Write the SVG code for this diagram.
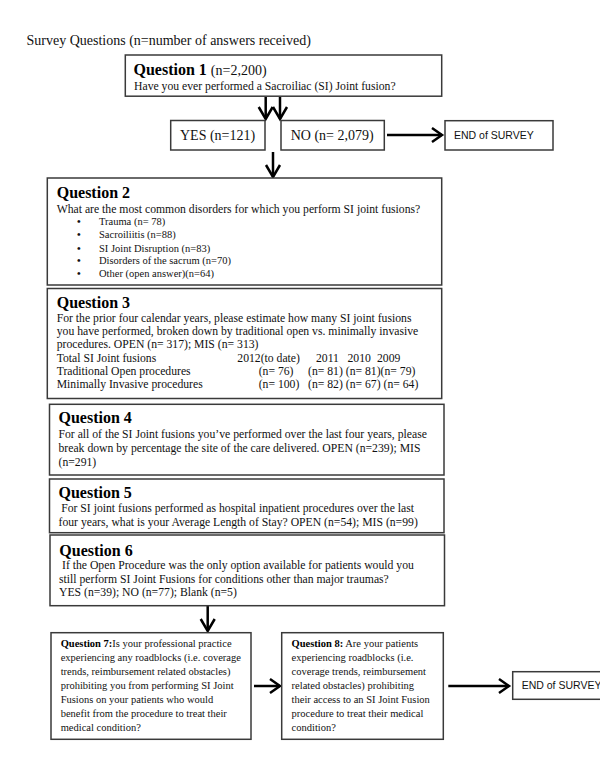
<svg xmlns="http://www.w3.org/2000/svg" width="600" height="777" viewBox="0 0 600 777">
<style>
.box{fill:#fff;stroke:#3a3a3a;stroke-width:1.5}
.t{font-family:"Liberation Serif","Times New Roman",serif;fill:#111}
.h{font-family:"Liberation Serif","Times New Roman",serif;font-weight:bold;font-size:16px;fill:#000}
.b{font-size:11.7px}
.s{font-size:10.5px}
.sans{font-family:"Liberation Sans",Arial,sans-serif;font-size:10.5px;fill:#111}
.conn line,.conn polyline{stroke:#000;stroke-width:2.5;fill:none}
</style>
<rect width="600" height="777" fill="#fff"/>
<text class="t" x="26.5" y="45" font-size="14">Survey Questions (n=number of answers received)</text>

<g id="conn" class="conn">
<line x1="265.7" y1="97" x2="265.7" y2="119"/>
<polyline points="258.7,107 265.7,119 272.7,107"/>
<line x1="280" y1="97" x2="280" y2="119"/>
<polyline points="273,107 280,119 287,107"/>
<line x1="273" y1="152" x2="273" y2="177"/>
<polyline points="266,165 273,177 280,165"/>
<line x1="387" y1="135" x2="442" y2="135"/>
<polyline points="432,128 442,135 432,142"/>
<line x1="207.7" y1="606" x2="207.7" y2="631"/>
<polyline points="200.7,619 207.7,631 214.7,619"/>
<line x1="254" y1="686" x2="280" y2="686"/>
<polyline points="270,679 280,686 270,693"/>
<line x1="448.3" y1="686" x2="509" y2="686"/>
<polyline points="499,679 509,686 499,693"/>
</g>

<g id="q1">
<rect class="box" x="125.3" y="55" width="316.4" height="41.2"/>
<text class="h" x="133.5" y="75">Question 1 <tspan class="t" style="font-weight:normal" font-size="14">(n=2,200)</tspan></text>
<text class="t b" x="134" y="90">Have you ever performed a Sacroiliac (SI) Joint fusion?</text>
</g>

<g id="yes">
<rect class="box" x="170.7" y="120.5" width="94.3" height="29.5"/>
<text class="t" x="180" y="140" font-size="14">YES (n=121)</text>
</g>

<g id="no">
<rect class="box" x="281" y="120.5" width="103.3" height="29.5"/>
<text class="t" x="290.7" y="140" font-size="14">NO (n= 2,079)</text>
</g>

<g id="end1">
<rect class="box" x="445" y="120.7" width="108" height="29.3"/>
<text class="sans" x="454" y="138.5">END of SURVEY</text>
</g>

<g id="q2">
<rect class="box" x="47.3" y="178" width="394.4" height="107"/>
<text class="h" x="56.7" y="198.3">Question 2</text>
<text class="t b" x="56.7" y="212.5">What are the most common disorders for which you perform SI joint fusions?</text>
<g class="t s">
<text x="77" y="225" font-weight="bold">•</text><text x="99" y="225">Trauma (n= 78)</text>
<text x="77" y="238.3" font-weight="bold">•</text><text x="99" y="238.3">Sacroiliitis (n=88)</text>
<text x="77" y="251.6" font-weight="bold">•</text><text x="99" y="251.6">SI Joint Disruption (n=83)</text>
<text x="77" y="264.2" font-weight="bold">•</text><text x="99" y="264.2">Disorders of the sacrum (n=70)</text>
<text x="77" y="276.7" font-weight="bold">•</text><text x="99" y="276.7">Other (open answer)(n=64)</text>
</g>
</g>

<g id="q3">
<rect class="box" x="47.3" y="288.5" width="394.4" height="110"/>
<g class="t b">
<text class="h" x="56.7" y="307.7">Question 3</text>
<text x="56.7" y="322.3">For the prior four calendar years, please estimate how many SI joint fusions</text>
<text x="56.7" y="335">you have performed, broken down by traditional open vs. minimally invasive</text>
<text x="56.7" y="347.7">procedures. OPEN (n= 317); MIS (n= 313)</text>
<text x="56.7" y="361.7">Total SI Joint fusions</text>
<text x="237.3" y="361.7">2012(to date)</text>
<text x="316" y="361.7">2011</text>
<text x="347.5" y="361.7">2010</text>
<text x="377" y="361.7">2009</text>
<text x="56.7" y="375">Traditional Open procedures</text>
<text x="258.7" y="375">(n= 76)</text>
<text x="308" y="375">(n= 81) (n= 81)(n= 79)</text>
<text x="56.7" y="388.3">Minimally Invasive procedures</text>
<text x="258.7" y="388.3">(n= 100)</text>
<text x="308" y="388.3">(n= 82) (n= 67) (n= 64)</text>
</g>
</g>

<g id="q4">
<rect class="box" x="49.5" y="404.3" width="394.5" height="70.7"/>
<text class="h" x="58.5" y="423.3">Question 4</text>
<g class="t b">
<text x="58.5" y="438">For all of the SI Joint fusions you’ve performed over the last four years, please</text>
<text x="58.5" y="452.3">break down by percentage the site of the care delivered. OPEN (n=239); MIS</text>
<text x="58.5" y="465.7">(n=291)</text>
</g>
</g>

<g id="q5">
<rect class="box" x="49.5" y="479" width="394.5" height="53.7"/>
<text class="h" x="58.5" y="498.3">Question 5</text>
<g class="t b">
<text x="61.2" y="512.3">For SI joint fusions performed as hospital inpatient procedures over the last</text>
<text x="58.5" y="525.7">four years, what is your Average Length of Stay? OPEN (n=54); MIS (n=99)</text>
</g>
</g>

<g id="q6">
<rect class="box" x="50" y="535" width="394.5" height="70.7"/>
<text class="h" x="59.3" y="555.7">Question 6</text>
<g class="t b">
<text x="62" y="569.3">If the Open Procedure was the only option available for patients would you</text>
<text x="59" y="582.7">still perform SI Joint Fusions for conditions other than major traumas?</text>
<text x="59" y="596">YES (n=39); NO (n=77); Blank (n=5)</text>
</g>
</g>

<g id="q7">
<rect class="box" x="51" y="632.7" width="200" height="106.6"/>
<g class="t s">
<text x="60.7" y="646.7"><tspan font-weight="bold" fill="#000">Question 7:</tspan>Is your professional practice</text>
<text x="60.7" y="660.7">experiencing any roadblocks (i.e. coverage</text>
<text x="60.7" y="674.7">trends, reimbursement related obstacles)</text>
<text x="60.7" y="688.7">prohibiting you from performing SI Joint</text>
<text x="60.7" y="702.7">Fusions on your patients who would</text>
<text x="60.7" y="716.7">benefit from the procedure to treat their</text>
<text x="60.7" y="730.7">medical condition?</text>
</g>
</g>

<g id="q8">
<rect class="box" x="281.7" y="632.7" width="161.6" height="106.6"/>
<g class="t s">
<text x="291.6" y="646.7"><tspan font-weight="bold" fill="#000">Question 8:</tspan> Are your patients</text>
<text x="291.6" y="660.7">experiencing roadblocks (i.e.</text>
<text x="291.6" y="674.7">coverage trends, reimbursement</text>
<text x="291.6" y="688.7">related obstacles) prohibiting</text>
<text x="291.6" y="702.7">their access to an SI Joint Fusion</text>
<text x="291.6" y="716.7">procedure to treat their medical</text>
<text x="291.6" y="730.7">condition?</text>
</g>
</g>

<g id="end2">
<rect class="box" x="512.7" y="671.7" width="110" height="27.6"/>
<text class="sans" x="521.7" y="689.3">END of SURVEY</text>
</g>
</svg>
